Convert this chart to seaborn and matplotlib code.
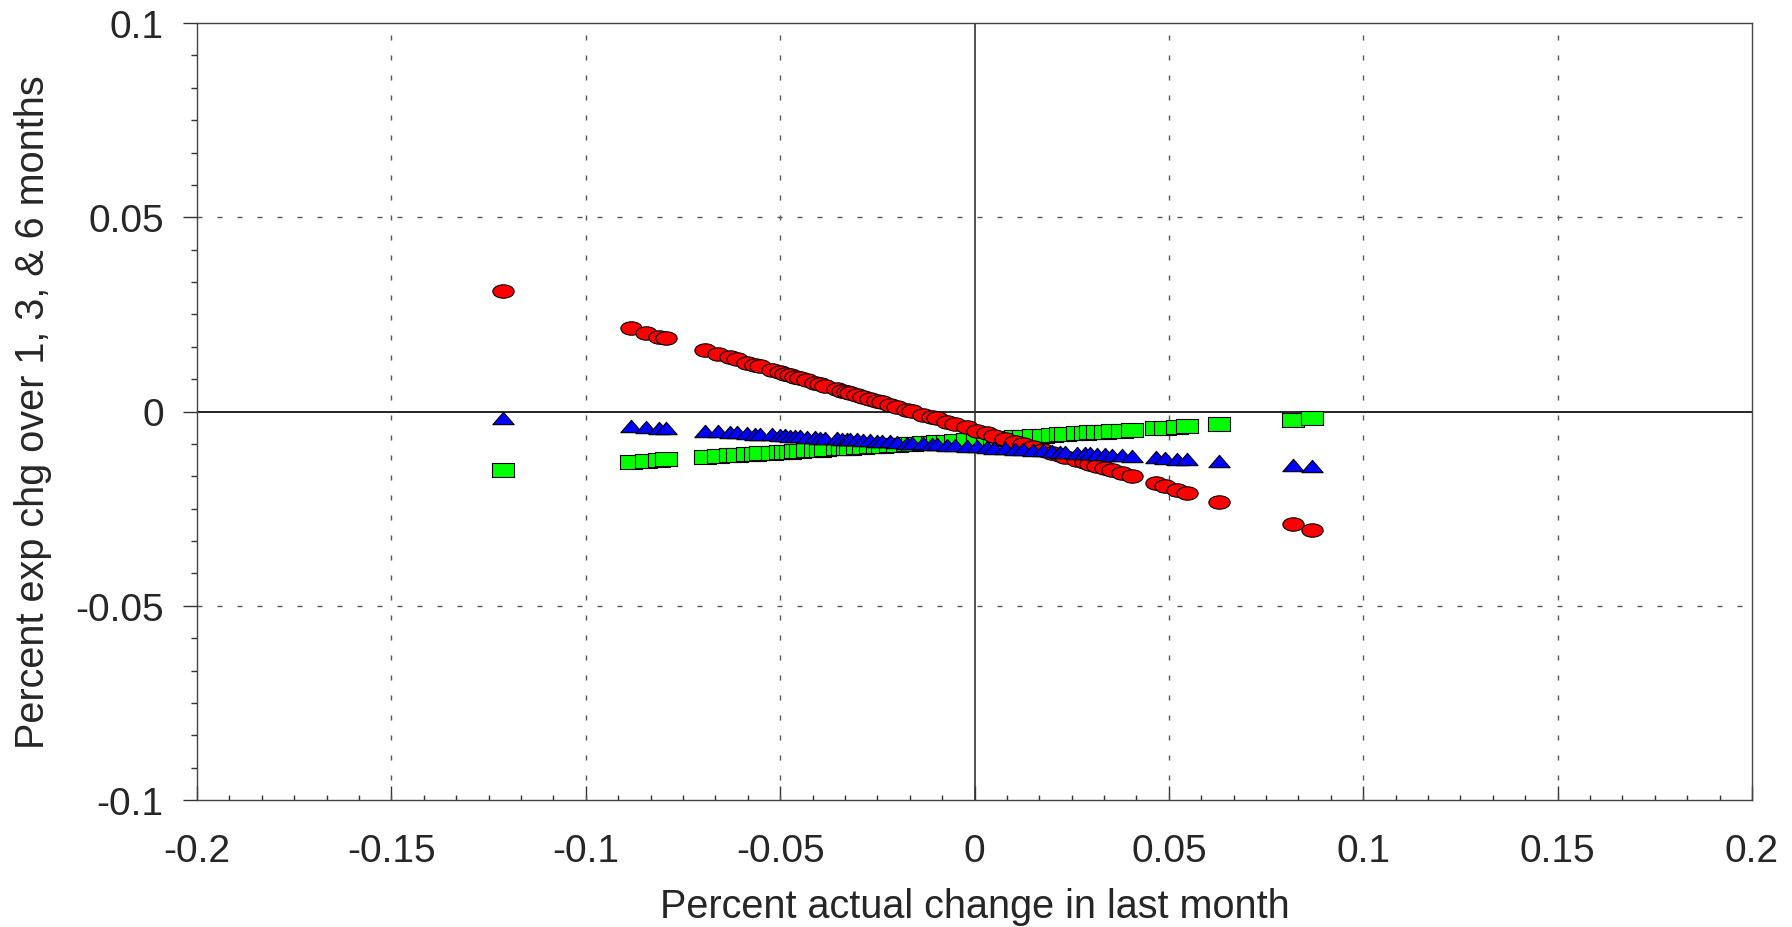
import numpy as np
import pandas as pd
import seaborn as sns
import matplotlib
matplotlib.use("Agg")
import matplotlib.pyplot as plt
from matplotlib.path import Path
from matplotlib.ticker import AutoMinorLocator

# actual change in last month (shared by all three series)
actual_chg = [
    -0.1213, -0.0884, -0.0846, -0.0811, -0.0794,
    -0.0693, -0.0659, -0.0629, -0.0612, -0.0586, -0.0564, -0.0551, -0.0522,
    -0.0500, -0.0488, -0.0475, -0.0462, -0.0449, -0.0432, -0.0410, -0.0397,
    -0.0384, -0.0354, -0.0342, -0.0329, -0.0320, -0.0303, -0.0286, -0.0269,
    -0.0252, -0.0239, -0.0217, -0.0200, -0.0174, -0.0161, -0.0132, -0.0110,
    -0.0097, -0.0072, -0.0050, -0.0020, 0.0006, 0.0031, 0.0050, 0.0078,
    0.0104, 0.0126, 0.0151, 0.0177, 0.0199, 0.0220, 0.0233, 0.0263, 0.0284,
    0.0297, 0.0314, 0.0336, 0.0353, 0.0379, 0.0404,
    0.0467, 0.0490, 0.0521, 0.0547, 0.0630, 0.0820, 0.0869,
]

# expected change over 1 month (red circles)
exp_1m = [
    0.0311, 0.0214, 0.0203, 0.0193, 0.0188,
    0.0158, 0.0148, 0.0139, 0.0134, 0.0126, 0.0120, 0.0116, 0.0107,
    0.0101, 0.0097, 0.0093, 0.0090, 0.0086, 0.0081, 0.0074, 0.0070,
    0.0066, 0.0058, 0.0054, 0.0050, 0.0048, 0.0043, 0.0038, 0.0032,
    0.0027, 0.0024, 0.0017, 0.0012, 0.0004, 0.0001, -0.0008, -0.0015,
    -0.0018, -0.0026, -0.0032, -0.0041, -0.0049, -0.0056, -0.0062, -0.0070,
    -0.0078, -0.0084, -0.0092, -0.0099, -0.0106, -0.0112, -0.0116, -0.0125, -0.0131,
    -0.0135, -0.0140, -0.0146, -0.0151, -0.0159, -0.0166,
    -0.0185, -0.0192, -0.0201, -0.0209, -0.0233, -0.0289, -0.0304,
]

# expected change over 3 months (blue triangles)
exp_3m = [
    -0.0018, -0.0038, -0.0040, -0.0042, -0.0043,
    -0.0049, -0.0051, -0.0053, -0.0054, -0.0055, -0.0057, -0.0057, -0.0059,
    -0.0061, -0.0061, -0.0062, -0.0063, -0.0064, -0.0065, -0.0066, -0.0067,
    -0.0067, -0.0069, -0.0070, -0.0071, -0.0071, -0.0072, -0.0073, -0.0074,
    -0.0075, -0.0076, -0.0077, -0.0078, -0.0080, -0.0080, -0.0082, -0.0083,
    -0.0084, -0.0086, -0.0087, -0.0089, -0.0090, -0.0092, -0.0093, -0.0095,
    -0.0096, -0.0097, -0.0099, -0.0100, -0.0102, -0.0103, -0.0104, -0.0106, -0.0107,
    -0.0108, -0.0109, -0.0110, -0.0111, -0.0112, -0.0114,
    -0.0118, -0.0119, -0.0121, -0.0122, -0.0127, -0.0138, -0.0141,
]

# expected change over 6 months (green squares)
exp_6m = [
    -0.0150, -0.0129, -0.0127, -0.0124, -0.0123,
    -0.0117, -0.0115, -0.0113, -0.0112, -0.0110, -0.0109, -0.0108, -0.0106,
    -0.0105, -0.0104, -0.0103, -0.0102, -0.0101, -0.0100, -0.0099, -0.0098,
    -0.0097, -0.0095, -0.0095, -0.0094, -0.0093, -0.0092, -0.0091, -0.0090,
    -0.0089, -0.0088, -0.0087, -0.0086, -0.0084, -0.0083, -0.0081, -0.0080,
    -0.0079, -0.0078, -0.0076, -0.0074, -0.0073, -0.0071, -0.0070, -0.0068,
    -0.0066, -0.0065, -0.0063, -0.0062, -0.0060, -0.0059, -0.0058, -0.0056, -0.0055,
    -0.0054, -0.0053, -0.0052, -0.0051, -0.0049, -0.0047,
    -0.0043, -0.0042, -0.0040, -0.0038, -0.0033, -0.0021, -0.0018,
]

x_ticks = [-0.2, -0.15, -0.1, -0.05, 0, 0.05, 0.1, 0.15, 0.2]
x_ticklabels = ["-0.2", "-0.15", "-0.1", "-0.05", "0", "0.05", "0.1", "0.15", "0.2"]
y_ticks = [-0.1, -0.05, 0, 0.05, 0.1]
y_ticklabels = ["-0.1", "-0.05", "0", "0.05", "0.1"]

sns.set_style("white")
plt.rcParams["font.family"] = ["Liberation Sans", "DejaVu Sans"]
plt.rcParams["axes.unicode_minus"] = False

# markers in the original are squashed (wider than tall)
circ = Path.unit_circle()
ellipse = Path(circ.vertices * [1.0, 0.63], circ.codes)
triangle = Path([(-1, -0.58), (1, -0.58), (0, 0.58), (-1, -0.58)],
                [Path.MOVETO, Path.LINETO, Path.LINETO, Path.CLOSEPOLY])
square = Path([(-1, -0.65), (1, -0.65), (1, 0.65), (-1, 0.65), (-1, -0.65)],
              [Path.MOVETO, Path.LINETO, Path.LINETO, Path.LINETO, Path.CLOSEPOLY])

df = pd.DataFrame({"actual": actual_chg, "m1": exp_1m, "m3": exp_3m, "m6": exp_6m})

fig = plt.figure(figsize=(17.92, 9.28), dpi=100)
ax = fig.add_axes([197 / 1792, 1 - 801 / 928, (1752 - 197) / 1792, (801 - 24) / 928])

# zero lines and dashed grid
for v in [-0.15, -0.1, -0.05, 0.05, 0.1, 0.15]:
    ax.axvline(v, color="#555555", lw=1.0, dashes=(3.6, 10.8), zorder=1)
for v in [-0.05, 0.05]:
    ax.axhline(v, color="#555555", lw=1.0, dashes=(3.6, 10.8), zorder=1)
ax.axhline(0, color="black", lw=1.2, zorder=1.5)
ax.axvline(0, color="#333333", lw=1.2, zorder=1.5)

common = dict(s=235, edgecolor="black", linewidth=0.8, ax=ax, legend=False, zorder=3)
sns.scatterplot(data=df, x="actual", y="m6", marker=square, color="#00ff00", **common)
sns.scatterplot(data=df, x="actual", y="m1", marker=ellipse, color="#ff0000", **common)
sns.scatterplot(data=df, x="actual", y="m3", marker=triangle, color="#0000ff", **common)

ax.set_xlim(-0.2, 0.2)
ax.set_ylim(-0.1, 0.1)
ax.set_xticks(x_ticks)
ax.set_xticklabels(x_ticklabels)
ax.set_yticks(y_ticks)
ax.set_yticklabels(y_ticklabels)
ax.xaxis.set_minor_locator(AutoMinorLocator(6))
ax.yaxis.set_minor_locator(AutoMinorLocator(6))

ax.tick_params(axis="x", which="major", direction="in", length=10, width=1,
               color="#333333", labelsize=28, pad=24, bottom=True, top=False)
ax.tick_params(axis="x", which="minor", direction="in", length=3.5, width=1,
               color="#333333", bottom=True, top=False)
ax.tick_params(axis="y", which="major", direction="out", length=10, width=1,
               color="#333333", labelsize=28, pad=14, left=True, right=False)
ax.tick_params(axis="y", which="minor", direction="out", length=4, width=1,
               color="#333333", left=True, right=False)

for sp in ax.spines.values():
    sp.set_visible(True)
    sp.set_color("#444444")
    sp.set_linewidth(1.0)

ax.set_xlabel("Percent actual change in last month", fontsize=28.5)
ax.set_ylabel("Percent exp chg over 1, 3, & 6 months", fontsize=28.5)
ax.xaxis.set_label_coords(0.5, -0.112)
ax.yaxis.set_label_coords(-0.0935, 0.5)

fig.savefig("out.png", dpi=100, facecolor="white")
